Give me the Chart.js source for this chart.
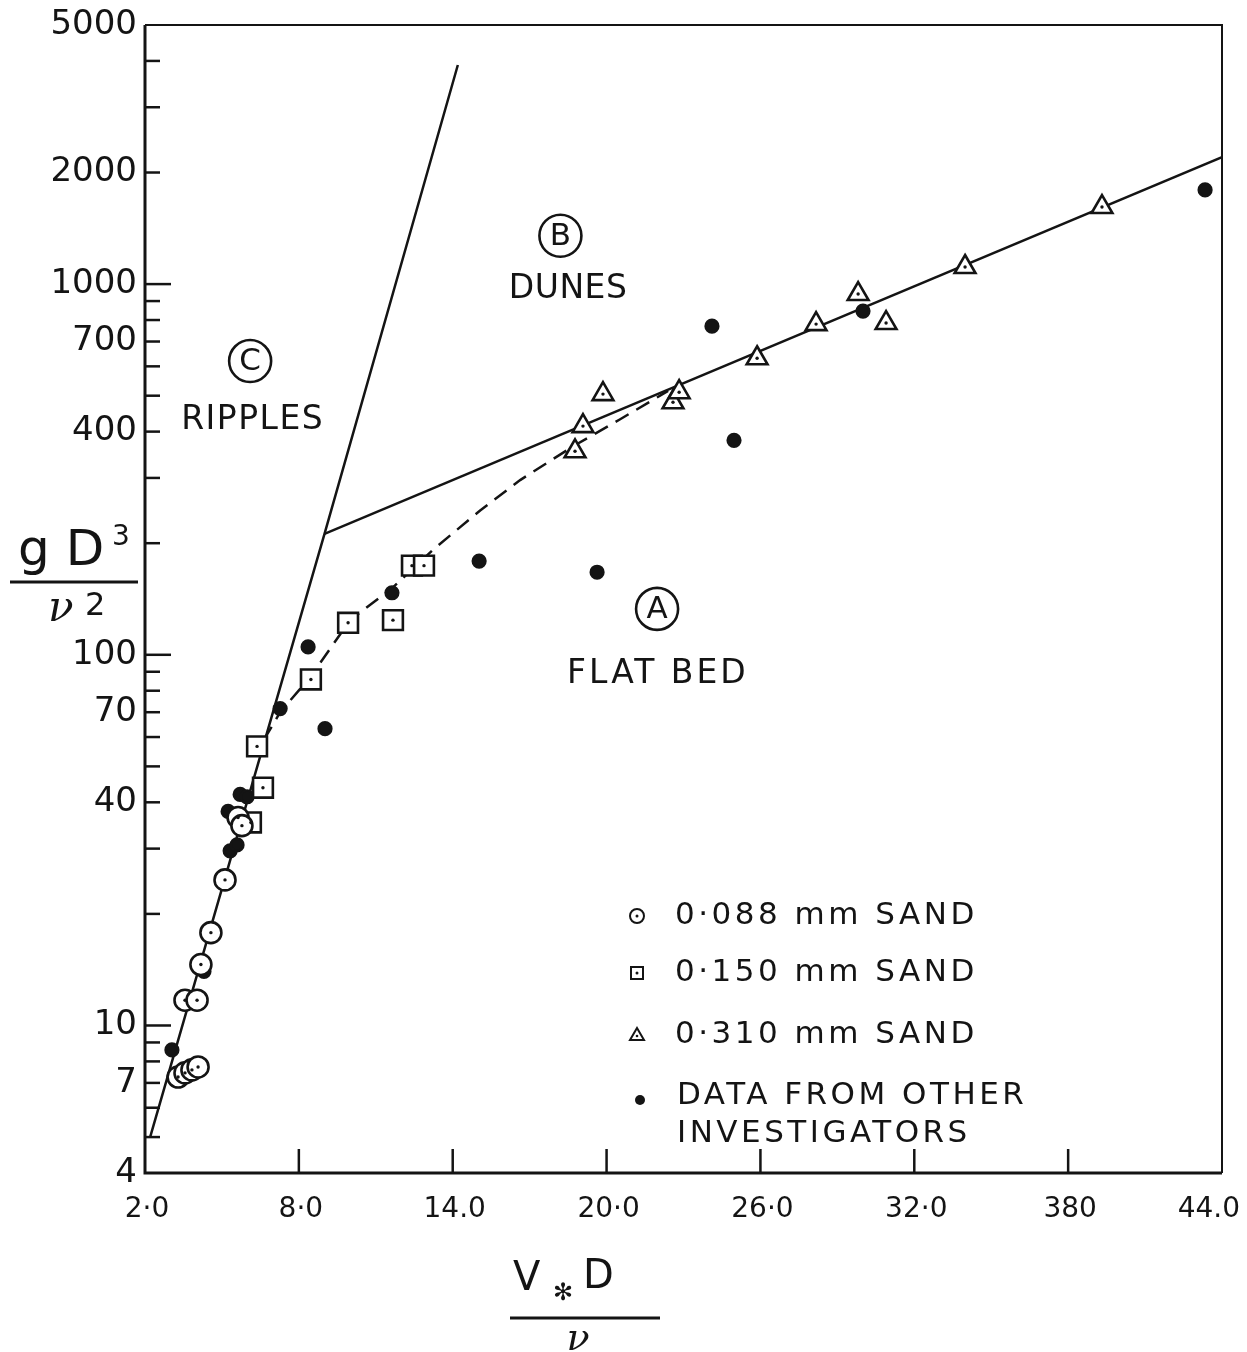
<!DOCTYPE html>
<html><head><meta charset="utf-8">
<script src="https://cdn.jsdelivr.net/npm/chart.js@4/dist/chart.umd.min.js"></script>
<style>html,body{margin:0;padding:0;background:#fff;}canvas{display:block;}</style>
</head><body>
<canvas id="c" width="1247" height="1352"></canvas>
<script>
// ---------- tick definitions ----------
const xTickValues = [2, 8, 14, 20, 26, 32, 38, 44];
const xTickLabels = ['2·0', '8·0', '14.0', '20·0', '26·0', '32·0', '380', '44.0'];
const yTickValues = [4,5,6,7,8,9,10,20,30,40,50,60,70,80,90,100,200,300,400,500,600,700,800,900,1000,2000,3000,4000,5000];
const yLabeledValues = [4,7,10,40,70,100,400,700,1000,2000,5000];
const yMajorValues = [10,100,1000];

// ---------- data series [V*D/nu, gD^3/nu^2] ----------
const sand088 = [[5.12,24.7],[4.57,17.8],[4.18,14.6],[3.56,11.7],[4.03,11.7],[3.29,7.26],[3.56,7.45],[3.83,7.59],[4.07,7.73],[5.63,36.4],[5.78,34.6]];
const sand150 = [[6.37,56.6],[6.60,43.8],[6.13,35.3],[8.47,85.8],[9.92,122],[11.67,124],[12.41,174],[12.88,174]];
const sand310 = [[18.77,354],[19.08,414],[19.86,505],[22.59,480],[22.83,511],[25.87,631],[28.17,780],[29.81,940],[30.90,785],[33.98,1112],[39.32,1614]];
const otherData = [[8.36,105],[9.02,63.2],[7.27,71.6],[5.71,42.0],[5.98,41.4],[5.24,37.8],[5.32,29.6],[5.59,30.7],[4.30,14.0],[3.05,8.59],[11.63,147],[15.03,179],[19.63,167],[24.97,379],[24.11,770],[30.0,846],[43.34,1795]];
const ripplesBoundary = [[2.2,5.0],[9.0,212],[14.2,3900]];
const dunesBoundary = [[9.0,212],[44,2200]];
const transitionCurve = [[6.64,59],[7.27,70],[8.44,87],[10.0,124],[11.67,152],[13.23,192],[15.07,245],[16.63,296],[18.69,365],[20.53,432],[22.4,515]];

const legendLabels = ['0·088 mm SAND', '0·150 mm SAND', '0·310 mm SAND', 'DATA FROM OTHER', 'INVESTIGATORS'];

const pts = a => a.map(p => ({x: p[0], y: p[1]}));
const INK = '#141414';

Chart.defaults.font.family = 'DejaVu Sans';
Chart.defaults.color = INK;

function lineDS(data, dash) {
  return {type: 'line', data: pts(data), borderColor: INK, borderWidth: 2.5, borderDash: dash || [],
    pointRadius: 0, fill: false, tension: 0, order: 10};
}
function markerDS(data, style, r, fill) {
  return {type: 'scatter', data: pts(data), pointStyle: style, pointRadius: r, pointHoverRadius: r,
    pointBackgroundColor: fill, pointBorderColor: INK, pointBorderWidth: 2.6, showLine: false, order: 2};
}
function centerDS(data) {
  return {type: 'scatter', data: pts(data), pointStyle: 'circle', pointRadius: 1.7, pointHoverRadius: 1.7,
    pointBackgroundColor: INK, pointBorderWidth: 0, showLine: false, order: 1};
}

const decor = {
  id: 'decor',
  afterDraw(chart) {
    const {ctx, chartArea: a, scales: {x, y}} = chart;
    ctx.save();
    ctx.strokeStyle = INK; ctx.fillStyle = INK;
    // frame
    ctx.lineWidth = 2;
    ctx.beginPath(); ctx.moveTo(a.left, a.top); ctx.lineTo(a.right, a.top); ctx.lineTo(a.right, a.bottom); ctx.stroke();
    ctx.lineWidth = 3;
    ctx.beginPath(); ctx.moveTo(a.left, a.top); ctx.lineTo(a.left, a.bottom); ctx.lineTo(a.right, a.bottom); ctx.stroke();
    // inward ticks
    ctx.lineWidth = 2.5;
    yTickValues.forEach(v => {
      if (v <= 4 || v >= 5000) return;
      const py = y.getPixelForValue(v);
      const len = yMajorValues.includes(v) ? 26 : 15;
      ctx.beginPath(); ctx.moveTo(a.left, py); ctx.lineTo(a.left + len, py); ctx.stroke();
    });
    xTickValues.slice(1, -1).forEach(v => {
      const px = x.getPixelForValue(v);
      ctx.beginPath(); ctx.moveTo(px, a.bottom); ctx.lineTo(px, a.bottom - 24); ctx.stroke();
    });
    // x tick labels, placed from the x scale
    ctx.font = '28px DejaVu Sans'; ctx.textBaseline = 'middle';
    xTickValues.forEach((v, i) => {
      const px = x.getPixelForValue(v);
      if (i === xTickValues.length - 1) { ctx.textAlign = 'right'; ctx.fillText(xTickLabels[i], px + 18, a.bottom + 37); }
      else { ctx.textAlign = 'center'; ctx.fillText(xTickLabels[i], px + 2, a.bottom + 37); }
    });
    // region labels
    const circled = (ch, vx, vy) => {
      const cx = x.getPixelForValue(vx), cy = y.getPixelForValue(vy);
      ctx.lineWidth = 2.6; ctx.beginPath(); ctx.arc(cx, cy, 21, 0, 2 * Math.PI); ctx.stroke();
      ctx.font = '31px DejaVu Sans'; ctx.textAlign = 'center'; ctx.textBaseline = 'middle';
      ctx.letterSpacing = '0px';
      ctx.fillText(ch, cx, cy + 1);
    };
    const word = (t, vx, vy, sp) => {
      ctx.font = '33px DejaVu Sans'; ctx.textAlign = 'center'; ctx.textBaseline = 'middle';
      ctx.letterSpacing = (sp || 0) + 'px';
      ctx.fillText(t, x.getPixelForValue(vx), y.getPixelForValue(vy));
      ctx.letterSpacing = '0px';
    };
    circled('C', 6.1, 620); word('RIPPLES', 6.2, 430, 1.5);
    circled('B', 18.2, 1350); word('DUNES', 18.5, 970, 0.5);
    circled('A', 21.97, 133); word('FLAT BED', 22.0, 88.5, 3);

    // legend
    const lx = 637, tx = 675;
    const rows = [916, 973, 1035, 1096];
    ctx.lineWidth = 2;
    ctx.beginPath(); ctx.arc(lx, rows[0], 7, 0, 2 * Math.PI); ctx.stroke();
    ctx.beginPath(); ctx.arc(lx, rows[0], 1.5, 0, 2 * Math.PI); ctx.fill();
    ctx.strokeRect(lx - 6, rows[1] - 6, 12, 12);
    ctx.beginPath(); ctx.arc(lx, rows[1], 1.5, 0, 2 * Math.PI); ctx.fill();
    ctx.beginPath(); ctx.moveTo(lx, rows[2] - 7); ctx.lineTo(lx + 7, rows[2] + 5); ctx.lineTo(lx - 7, rows[2] + 5); ctx.closePath(); ctx.stroke();
    ctx.beginPath(); ctx.arc(lx, rows[2] + 1, 1.3, 0, 2 * Math.PI); ctx.fill();
    ctx.beginPath(); ctx.arc(lx + 3, rows[3] + 4, 5, 0, 2 * Math.PI); ctx.fill();
    ctx.font = '31px DejaVu Sans'; ctx.textAlign = 'left'; ctx.textBaseline = 'middle';
    ctx.letterSpacing = '3.5px';
    ctx.fillText(legendLabels[0], tx, rows[0]);
    ctx.fillText(legendLabels[1], tx, rows[1]);
    ctx.fillText(legendLabels[2], tx, rows[2]);
    ctx.fillText(legendLabels[3], tx + 2, rows[3]);
    ctx.fillText(legendLabels[4], tx + 2, rows[3] + 38);
    ctx.letterSpacing = '0px';

    // y-axis title  gD^3 / nu^2
    ctx.textAlign = 'left'; ctx.textBaseline = 'alphabetic';
    ctx.font = '50px DejaVu Sans';
    ctx.fillText('g D', 18, 565);
    ctx.font = '28px DejaVu Sans';
    ctx.fillText('3', 112, 545);
    ctx.lineWidth = 3;
    ctx.beginPath(); ctx.moveTo(10, 582); ctx.lineTo(138, 582); ctx.stroke();
    ctx.font = 'italic 42px DejaVu Serif';
    ctx.fillText('ν', 48, 621);
    ctx.font = '32px DejaVu Sans';
    ctx.fillText('2', 85, 615);

    // x-axis title  V*D / nu
    ctx.font = '40px DejaVu Sans';
    ctx.fillText('V', 513, 1290);
    ctx.font = 'bold 24px DejaVu Sans';
    ctx.fillText('✻', 553, 1300);
    ctx.font = '40px DejaVu Sans';
    ctx.fillText('D', 583, 1288);
    ctx.lineWidth = 3;
    ctx.beginPath(); ctx.moveTo(510, 1318); ctx.lineTo(660, 1318); ctx.stroke();
    ctx.font = 'italic 38px DejaVu Serif';
    ctx.textAlign = 'center';
    ctx.fillText('ν', 578, 1350);
    ctx.restore();
  }
};

new Chart(document.getElementById('c'), {
  data: {
    datasets: [
      lineDS(ripplesBoundary),
      lineDS(dunesBoundary),
      lineDS(transitionCurve, [15, 9]),
      markerDS(sand088, 'circle', 10.5, '#fff'),
      markerDS(sand150, 'rect', 14, '#fff'),
      markerDS(sand310, 'triangle', 12, '#fff'),
      markerDS(otherData, 'circle', 6.3, INK),
      centerDS(sand088), centerDS(sand150), centerDS(sand310)
    ]
  },
  options: {
    responsive: false, animation: false, events: [],
    layout: {padding: {top: 25, right: 25, left: 0, bottom: 0}},
    plugins: {legend: {display: false}, tooltip: {enabled: false}},
    scales: {
      x: {
        type: 'linear', min: 2, max: 44,
        afterBuildTicks: s => { s.ticks = xTickValues.map(v => ({value: v})); },
        afterFit: s => { s.height = 179; s.paddingLeft = 0; s.paddingRight = 0; },
        ticks: {display: false, autoSkip: false},
        grid: {display: false, drawTicks: false}, border: {display: false}
      },
      y: {
        type: 'logarithmic', min: 4, max: 5000,
        afterBuildTicks: s => { s.ticks = yTickValues.map(v => ({value: v})); },
        afterFit: s => { s.width = 145; s.paddingTop = 0; s.paddingBottom = 0; },
        ticks: {callback: v => yLabeledValues.includes(v) ? String(v) : '', font: {size: 34}, color: INK,
          padding: 8, autoSkip: false},
        grid: {display: false, drawTicks: false}, border: {display: false}
      }
    }
  },
  plugins: [decor]
});
</script>
</body></html>
